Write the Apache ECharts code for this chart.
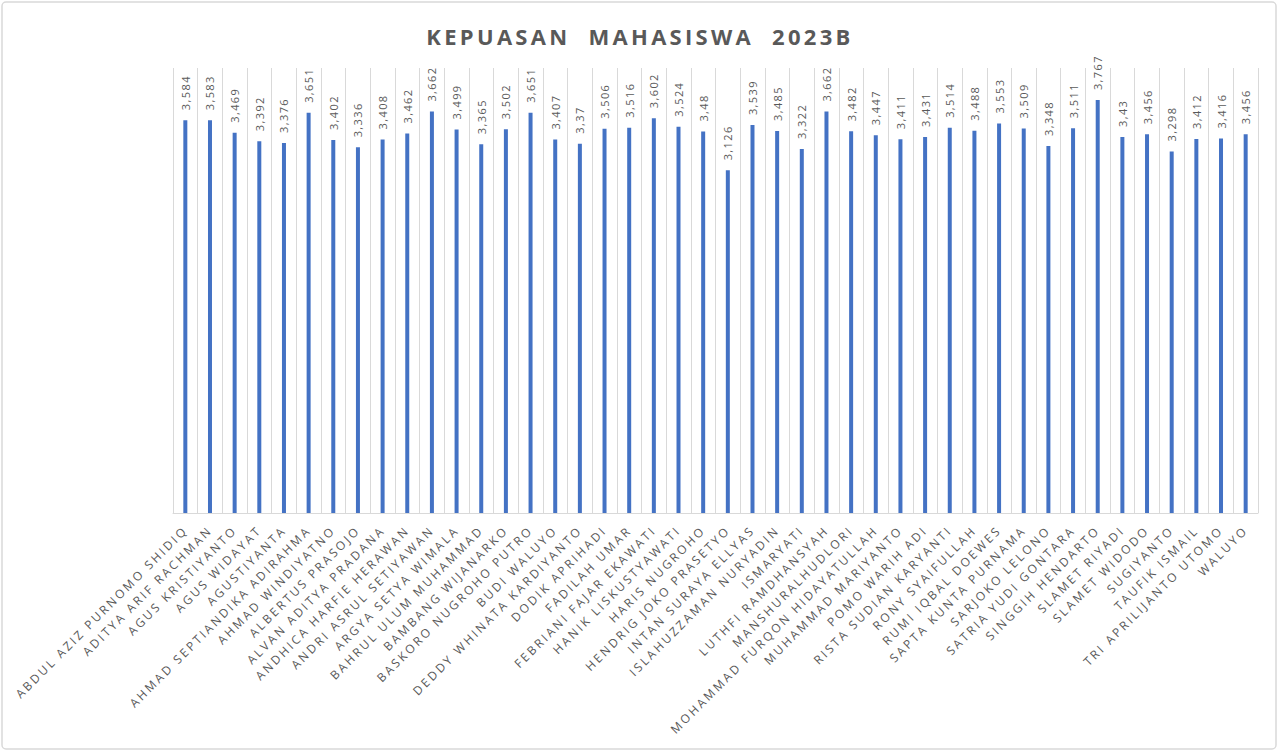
<!DOCTYPE html>
<html>
<head>
<meta charset="utf-8">
<script src="https://cdn.jsdelivr.net/npm/echarts@6/dist/echarts.min.js"></script>
<style>html,body{margin:0;padding:0;background:#fff;}#c{width:1280px;height:753px;}</style>
</head>
<body>
<div id="c"></div>
<script>
const titleText = 'KEPUASAN  MAHASISWA  2023B';
const categories = [
 'ABDUL AZIZ PURNOMO SHIDIQ','ADITYA ARIF RACHMAN','AGUS KRISTIYANTO','AGUS WIDAYAT','AGUSTIYANTA',
 'AHMAD SEPTIANDIKA ADIRAHMA','AHMAD WINDIYATNO','ALBERTUS PRASOJO','ALVAN ADITYA PRADANA','ANDHICA HARFIE HERAWAN',
 'ANDRI ASRUL SETIYAWAN','ARGYA SETYA WIMALA','BAHRUL ULUM MUHAMMAD','BAMBANG WIJANARKO','BASKORO NUGROHO PUTRO',
 'BUDI WALUYO','DEDDY WHINATA KARDIYANTO','DODIK APRIHADI','FADILAH UMAR','FEBRIANI FAJAR EKAWATI',
 'HANIK LISKUSTYAWATI','HARIS NUGROHO','HENDRIG JOKO PRASETYO','INTAN SURAYA ELLYAS','ISLAHUZZAMAN NURYADIN',
 'ISMARYATI','LUTHFI RAMDHANSYAH','MANSHURALHUDLORI','MOHAMMAD FURQON HIDAYATULLAH','MUHAMMAD MARIYANTO',
 'POMO WARIH ADI','RISTA SUDIAN KARYANTI','RONY SYAIFULLAH','RUMI IQBAL DOEWES','SAPTA KUNTA PURNAMA',
 'SARJOKO LELONO','SATRIA YUDI GONTARA','SINGGIH HENDARTO','SLAMET RIYADI','SLAMET WIDODO',
 'SUGIYANTO','TAUFIK ISMAIL','TRI APRILIJANTO UTOMO','WALUYO'
];
const values = [
 3.584,3.583,3.469,3.392,3.376,
 3.651,3.402,3.336,3.408,3.462,
 3.662,3.499,3.365,3.502,3.651,
 3.407,3.37,3.506,3.516,3.602,
 3.524,3.48,3.126,3.539,3.485,
 3.322,3.662,3.482,3.447,3.411,
 3.431,3.514,3.488,3.553,3.509,
 3.348,3.511,3.767,3.43,3.456,
 3.298,3.412,3.416,3.456
];

const X_LABEL_SIZE = 12;
const chart = echarts.init(document.getElementById('c'), null, {renderer: 'svg'});
chart.setOption({
  backgroundColor: '#fff',
  animation: false,
  title: {
    text: titleText,
    left: 'center',
    top: 20,
    textStyle: {fontFamily: 'Open Sans', fontWeight: 'bold', fontSize: 22, color: '#595959'}
  },
  graphic: [{
    type: 'rect',
    shape: {x: 2, y: 2, width: 1274, height: 747, r: 4},
    style: {fill: 'none', stroke: '#d9d9d9', lineWidth: 1.5},
    silent: true
  }],
  grid: {left: 173, right: 22, top: 68, bottom: 240, containLabel: false},
  xAxis: {
    type: 'category',
    data: categories,
    boundaryGap: true,
    axisLine: {lineStyle: {color: '#d9d9d9'}},
    axisTick: {show: false},
    splitLine: {show: true, interval: 0, lineStyle: {color: '#d9d9d9', width: 1}},
    axisLabel: {
      interval: 0, rotate: 45, margin: 15,
      fontFamily: 'Open Sans', fontSize: X_LABEL_SIZE, color: '#595959'
    }
  },
  yAxis: {
    type: 'value', min: 0, max: 4.06,
    show: false,
    splitLine: {show: false}
  },
  series: [{
    type: 'bar',
    data: values,
    barWidth: 4,
    itemStyle: {color: '#4472C4'},
    label: {
      show: true,
      position: 'top',
      rotate: 90,
      align: 'left',
      verticalAlign: 'middle',
      distance: 10,
      fontFamily: 'Open Sans',
      fontSize: 11,
      color: '#595959',
      formatter: p => String(p.value).replace('.', ',')
    }
  }]
});

// character spacing as in the original (Office-style expanded text)
function spaceText() {
  document.querySelectorAll('#c svg text').forEach(t => {
    const fs = parseFloat(getComputedStyle(t).fontSize);
    let ls = 1.4;
    if (fs >= 20) ls = 3.3;
    else if (fs === X_LABEL_SIZE) ls = 2.5;
    t.style.letterSpacing = ls + 'px';
  });
}
spaceText();
chart.on('finished', spaceText);
</script>
</body>
</html>
